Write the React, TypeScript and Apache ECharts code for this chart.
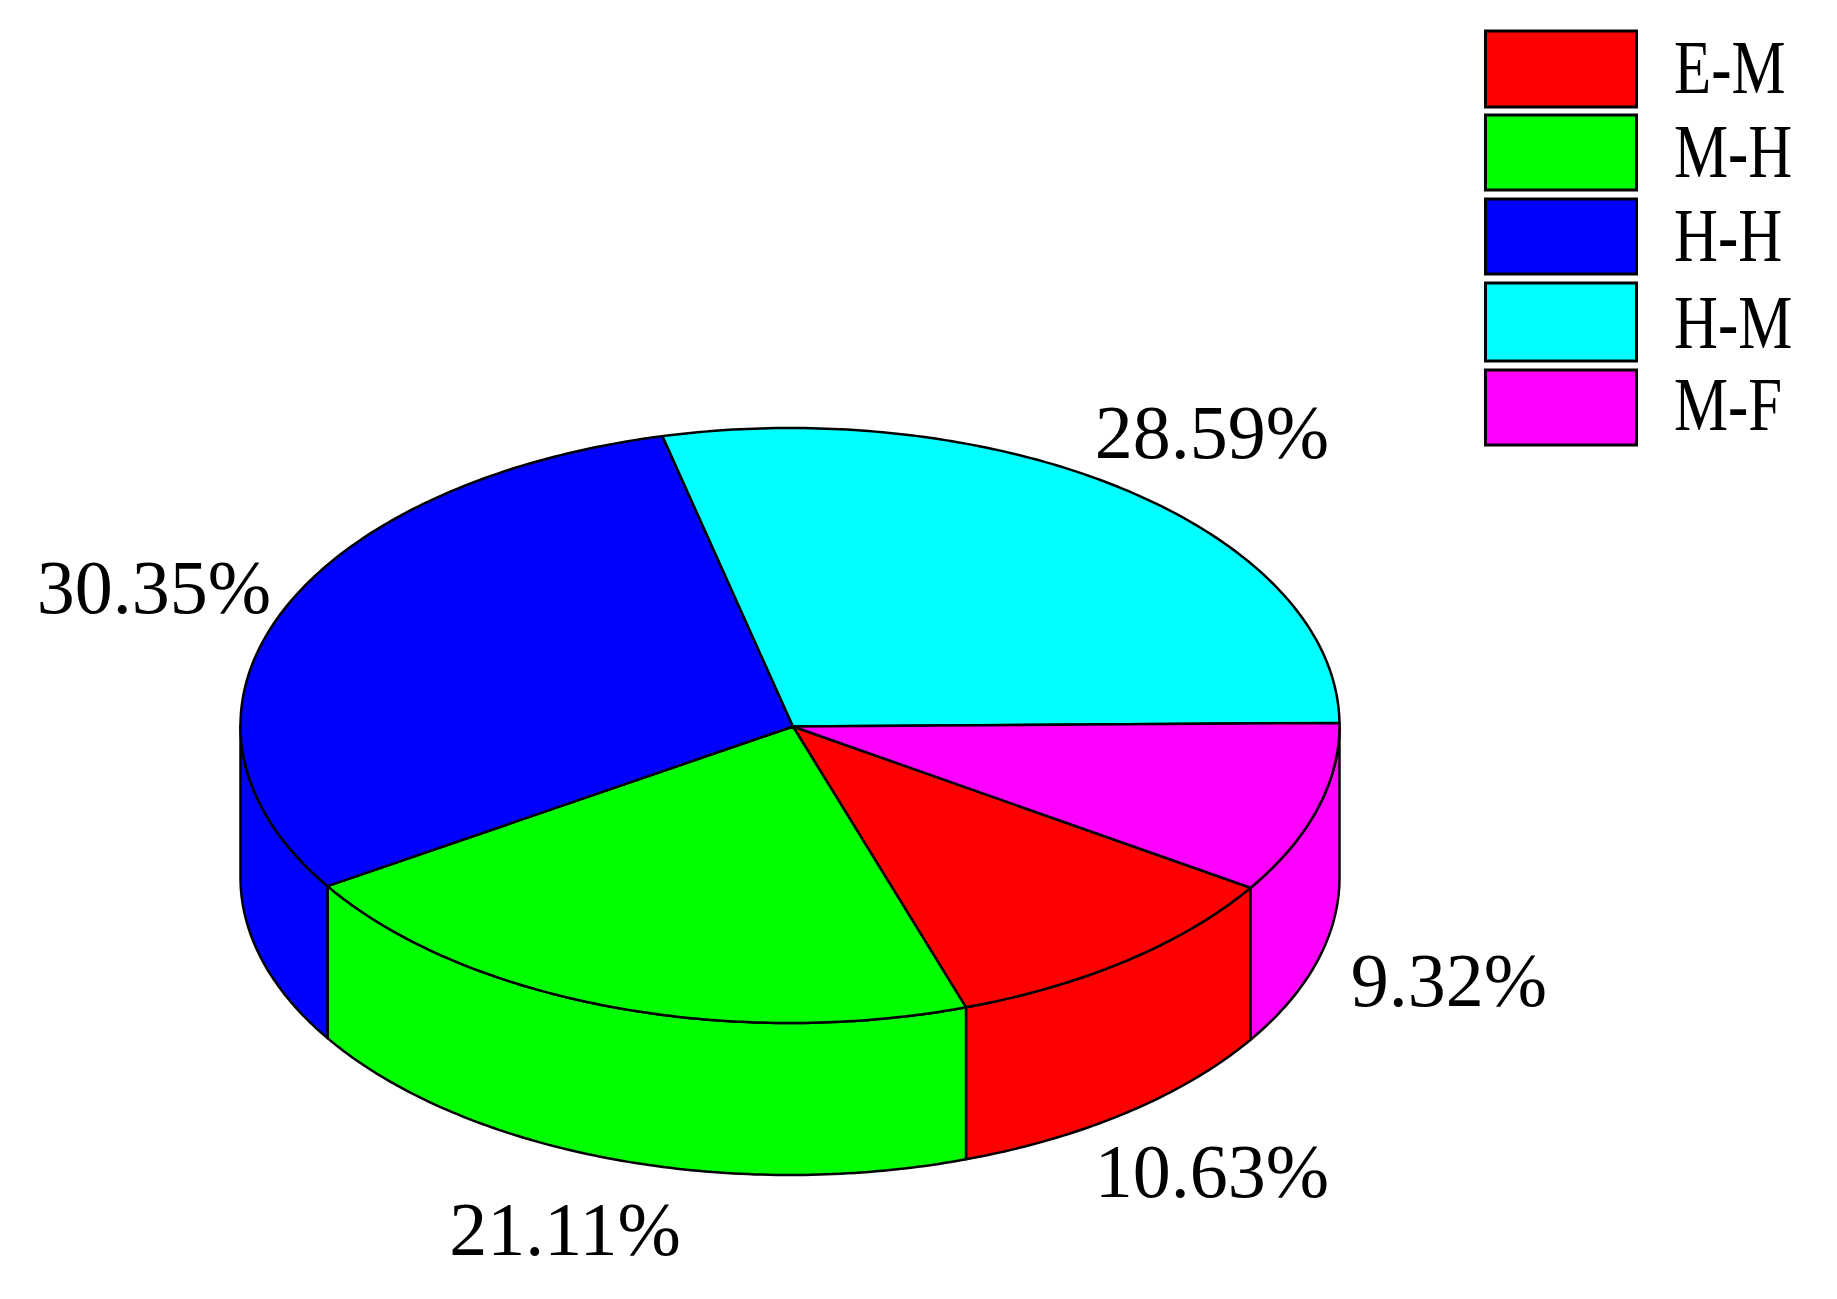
import React, { useEffect, useRef } from "react";
import * as echarts from "echarts";

const categories = ["E-M", "M-H", "H-H", "H-M", "M-F"];
const shares = [10.63, 21.11, 30.35, 28.59, 9.32];
const colors = ["#ff0000", "#00ff00", "#0000ff", "#00ffff", "#ff00ff"];

// layout
const W = 1837, H = 1299;
const CX = 790, CY = 725.5, RX = 549.5, RY = 297.5, DEPTH = 152;
const TILT = -0.5; // the whole pie sits half a degree anticlockwise of 3 o'clock
const legendBoxes = [[31, 76], [115, 75], [199, 75], [283, 78], [370, 75]];
const legendTextY = [68, 152, 236, 323, 405];
const labelCenters = [[1212, 1171], [565, 1229], [154, 587], [1212, 432], [1449, 980]];

const startFrac = shares[4] / 100; // the M-F slice begins at 3 o'clock, E-M follows it
const total = shares.reduce((a, b) => a + b, 0);

function pt(deg: number, dy = 0): number[] {
  const r = (deg * Math.PI) / 180;
  return [CX + RX * Math.cos(r), CY + RY * Math.sin(r) + dy];
}
function arc(a: number, b: number, dy = 0): number[][] {
  const n = Math.max(2, Math.ceil(Math.abs(b - a) / 0.75));
  const out: number[][] = [];
  for (let i = 0; i <= n; i++) out.push(pt(a + ((b - a) * i) / n, dy));
  return out;
}

function renderItem(params: any, api: any) {
  const i = params.dataIndex;
  let before = 0;
  for (let k = 0; k < i; k++) before += shares[k];
  const a = (((startFrac + before / total) * 360) % 360) + TILT;
  const b = a + (api.value(0) / total) * 360;
  const style = { fill: colors[i], stroke: "#000", lineWidth: 2.5, lineJoin: "round" };
  const children: any[] = [];
  // Wall: only the part of the rim facing the viewer (0..180 degrees, also after wrapping)
  const ranges = [[a, b], [a - 360, b - 360]];
  for (const [p, q] of ranges) {
    const s = Math.max(p, 0), e = Math.min(q, 180);
    if (e > s) {
      const pts = [...arc(s, e), ...arc(e, s, DEPTH)];
      children.push({ type: "polygon", shape: { points: pts }, style });
    }
  }
  children.push({
    type: "polygon",
    shape: { points: [[CX + 3, CY + 1], ...arc(a, b)] },
    style,
  });
  return { type: "group", children };
}

export default function App() {
  const ref = useRef<HTMLDivElement>(null);
  useEffect(() => {
    document.body.style.margin = "0";
    const chart = echarts.init(ref.current!, undefined, { renderer: "svg" });
    const graphic: any[] = [];
    categories.forEach((c, i) => {
      graphic.push({
        type: "rect",
        shape: { x: 1485.5, y: legendBoxes[i][0], width: 151, height: legendBoxes[i][1] },
        style: { fill: colors[i], stroke: "#000", lineWidth: 3 },
      });
      graphic.push({
        type: "text",
        x: 1674,
        y: legendTextY[i],
        scaleX: 0.8,
        style: {
          text: c,
          fill: "#000",
          font: "76px 'Liberation Serif'",
          textAlign: "left",
          textVerticalAlign: "middle",
        },
      });
    });
    shares.forEach((v, i) => {
      graphic.push({
        type: "text",
        x: labelCenters[i][0],
        y: labelCenters[i][1],
        style: {
          text: `${v.toFixed(2)}%`,
          fill: "#000",
          font: "76px 'Liberation Serif'",
          textAlign: "center",
          textVerticalAlign: "middle",
        },
      });
    });
    chart.setOption({
      animation: false,
      backgroundColor: "#fff",
      graphic,
      series: [
        {
          type: "custom",
          coordinateSystem: "none",
          silent: true,
          renderItem,
          data: categories.map((name, i) => ({ name, value: shares[i] })),
        },
      ],
    });
    return () => chart.dispose();
  }, []);
  return <div ref={ref} style={{ width: W, height: H, display: "block" }} />;
}
